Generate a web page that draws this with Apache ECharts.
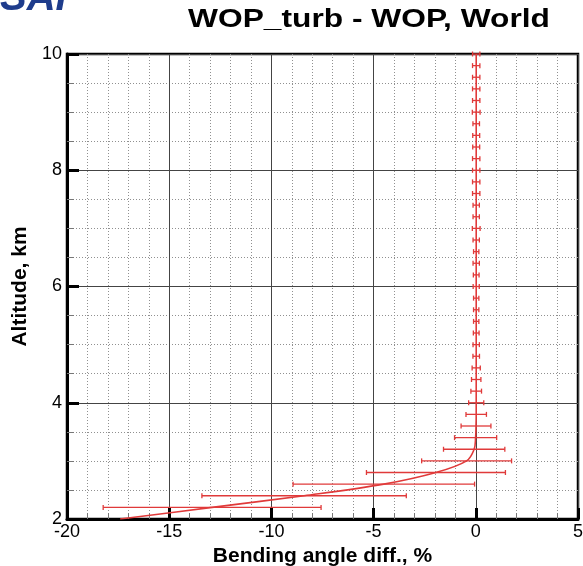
<!DOCTYPE html>
<html>
<head>
<meta charset="utf-8">
<script src="https://cdn.jsdelivr.net/npm/echarts@6/dist/echarts.min.js"></script>
<style>
  html, body { margin: 0; padding: 0; background: #fff; }
  #chart { width: 583px; height: 566px; }
</style>
</head>
<body>
<div id="chart"></div>
<script>
// Altitude levels (km)
const altitudes = [
  2.0, 2.2, 2.4, 2.6, 2.8, 3.0, 3.2, 3.4, 3.6, 3.8,
  4.0, 4.2, 4.4, 4.6, 4.8, 5.0, 5.2, 5.4, 5.6, 5.8,
  6.0, 6.2, 6.4, 6.6, 6.8, 7.0, 7.2, 7.4, 7.6, 7.8,
  8.0, 8.2, 8.4, 8.6, 8.8, 9.0, 9.2, 9.4, 9.6, 9.8, 10.0
];
// Mean bending angle difference (%) at each altitude
const meanDiff = [
  -17.4, -12.9, -8.4, -4.5, -1.95, -0.45, -0.08, -0.01, 0.01, 0.02,
  0.02, 0.02, 0.02, 0.02, 0.02, 0.02, 0.02, 0.02, 0.02, 0.02,
  0.02, 0.02, 0.02, 0.02, 0.02, 0.02, 0.02, 0.02, 0.02, 0.02,
  0.02, 0.02, 0.02, 0.02, 0.02, 0.02, 0.02, 0.02, 0.02, 0.02, 0.02
];
// Standard deviation (%) drawn as horizontal error bars
const stdDiff = [
  null, 5.33, 5.0, 4.44, 3.4, 2.2, 1.5, 1.03, 0.73, 0.5,
  0.37, 0.26, 0.23, 0.2, 0.16, 0.155, 0.14, 0.13, 0.13, 0.13,
  0.15, 0.14, 0.155, 0.13, 0.155, 0.19, 0.155, 0.155, 0.18, 0.18,
  0.18, 0.18, 0.17, 0.17, 0.16, 0.19, 0.18, 0.18, 0.18, 0.18, 0.18
];
const xTicks = { min: -20, max: 5, step: 5 };
const yTicks = { min: 2, max: 10, step: 2 };

const titleText = 'WOP_turb - WOP, World';
const xName = 'Bending angle diff., %';
const yName = 'Altitude, km';

const RED = '#e03a3a';
const FONT = '"Liberation Sans", Arial, Helvetica, sans-serif';

const lineData = altitudes.map((a, i) => [meanDiff[i], a]);
const barData = altitudes
  .map((a, i) => stdDiff[i] == null ? null : [meanDiff[i] - stdDiff[i], meanDiff[i] + stdDiff[i], a])
  .filter(d => d !== null);

const chart = echarts.init(document.getElementById('chart'), null, { renderer: 'canvas' });

chart.setOption({
  animation: false,
  backgroundColor: '#fff',
  graphic: [
    {
      type: 'text', x: 0, y: -21, z: 10,
      style: { text: 'SAF', font: 'italic bold 40px ' + FONT, fill: '#1e3c8c' }
    },
    {
      // wide bold heading, stretched horizontally around its centre
      type: 'text', x: 369, y: 20, z: 10, scaleX: 1.22,
      style: {
        text: titleText, font: 'bold 26px ' + FONT, fill: '#000',
        align: 'center', verticalAlign: 'middle'
      }
    }
  ],
  grid: {
    left: 67, right: 5, top: 54, bottom: 47,
    outerBoundsMode: 'none', containLabel: false,
    show: true, borderColor: '#000', borderWidth: 2.5, backgroundColor: '#fff'
  },
  xAxis: {
    type: 'value', min: xTicks.min, max: xTicks.max, interval: xTicks.step,
    name: xName, nameLocation: 'middle', nameGap: 20,
    nameTextStyle: { fontFamily: FONT, fontWeight: 'bold', fontSize: 21, color: '#000' },
    axisLine: { show: true, onZero: false, lineStyle: { color: '#000', width: 3 } },
    axisTick: { show: true, inside: true, length: 11, lineStyle: { color: '#000', width: 3 } },
    minorTick: { show: true, splitNumber: 5, length: 6, lineStyle: { color: '#777', width: 1 } },
    axisLabel: { fontFamily: FONT, fontSize: 18, color: '#000', margin: 4 },
    splitLine: { show: true, lineStyle: { color: '#444', width: 1 } },
    minorSplitLine: { show: true, lineStyle: { color: '#909090', width: 1, type: [1, 2] } }
  },
  yAxis: {
    type: 'value', min: yTicks.min, max: yTicks.max, interval: yTicks.step,
    name: yName, nameLocation: 'middle', nameGap: 31, nameRotate: 90,
    nameTextStyle: { fontFamily: FONT, fontWeight: 'bold', fontSize: 21, color: '#000' },
    axisLine: { show: true, onZero: false, lineStyle: { color: '#000', width: 3 } },
    axisTick: { show: true, inside: true, length: 12, lineStyle: { color: '#000', width: 3 } },
    minorTick: { show: true, splitNumber: 4, length: 7, lineStyle: { color: '#777', width: 1 } },
    axisLabel: { fontFamily: FONT, fontSize: 18, color: '#000', margin: 5 },
    splitLine: { show: true, lineStyle: { color: '#444', width: 1 } },
    minorSplitLine: { show: true, lineStyle: { color: '#909090', width: 1, type: [1, 2] } }
  },
  series: [
    {
      type: 'custom',
      name: 'std',
      data: barData,
      encode: { x: [0, 1], y: 2 },
      z: 3,
      renderItem: function (params, api) {
        const y = api.value(2);
        const p0 = api.coord([api.value(0), y]);
        const p1 = api.coord([api.value(1), y]);
        const h = 2.5;
        const st = { stroke: RED, lineWidth: 1.3 };
        return {
          type: 'group',
          children: [
            { type: 'line', shape: { x1: p0[0], y1: p0[1], x2: p1[0], y2: p1[1] }, style: st },
            { type: 'line', shape: { x1: p0[0], y1: p0[1] - h, x2: p0[0], y2: p0[1] + h }, style: st },
            { type: 'line', shape: { x1: p1[0], y1: p1[1] - h, x2: p1[0], y2: p1[1] + h }, style: st }
          ]
        };
      }
    },
    {
      type: 'line',
      name: 'mean',
      data: lineData,
      showSymbol: false,
      smooth: 0.35,
      z: 4,
      lineStyle: { color: RED, width: 1.6 }
    }
  ]
});
</script>
</body>
</html>
